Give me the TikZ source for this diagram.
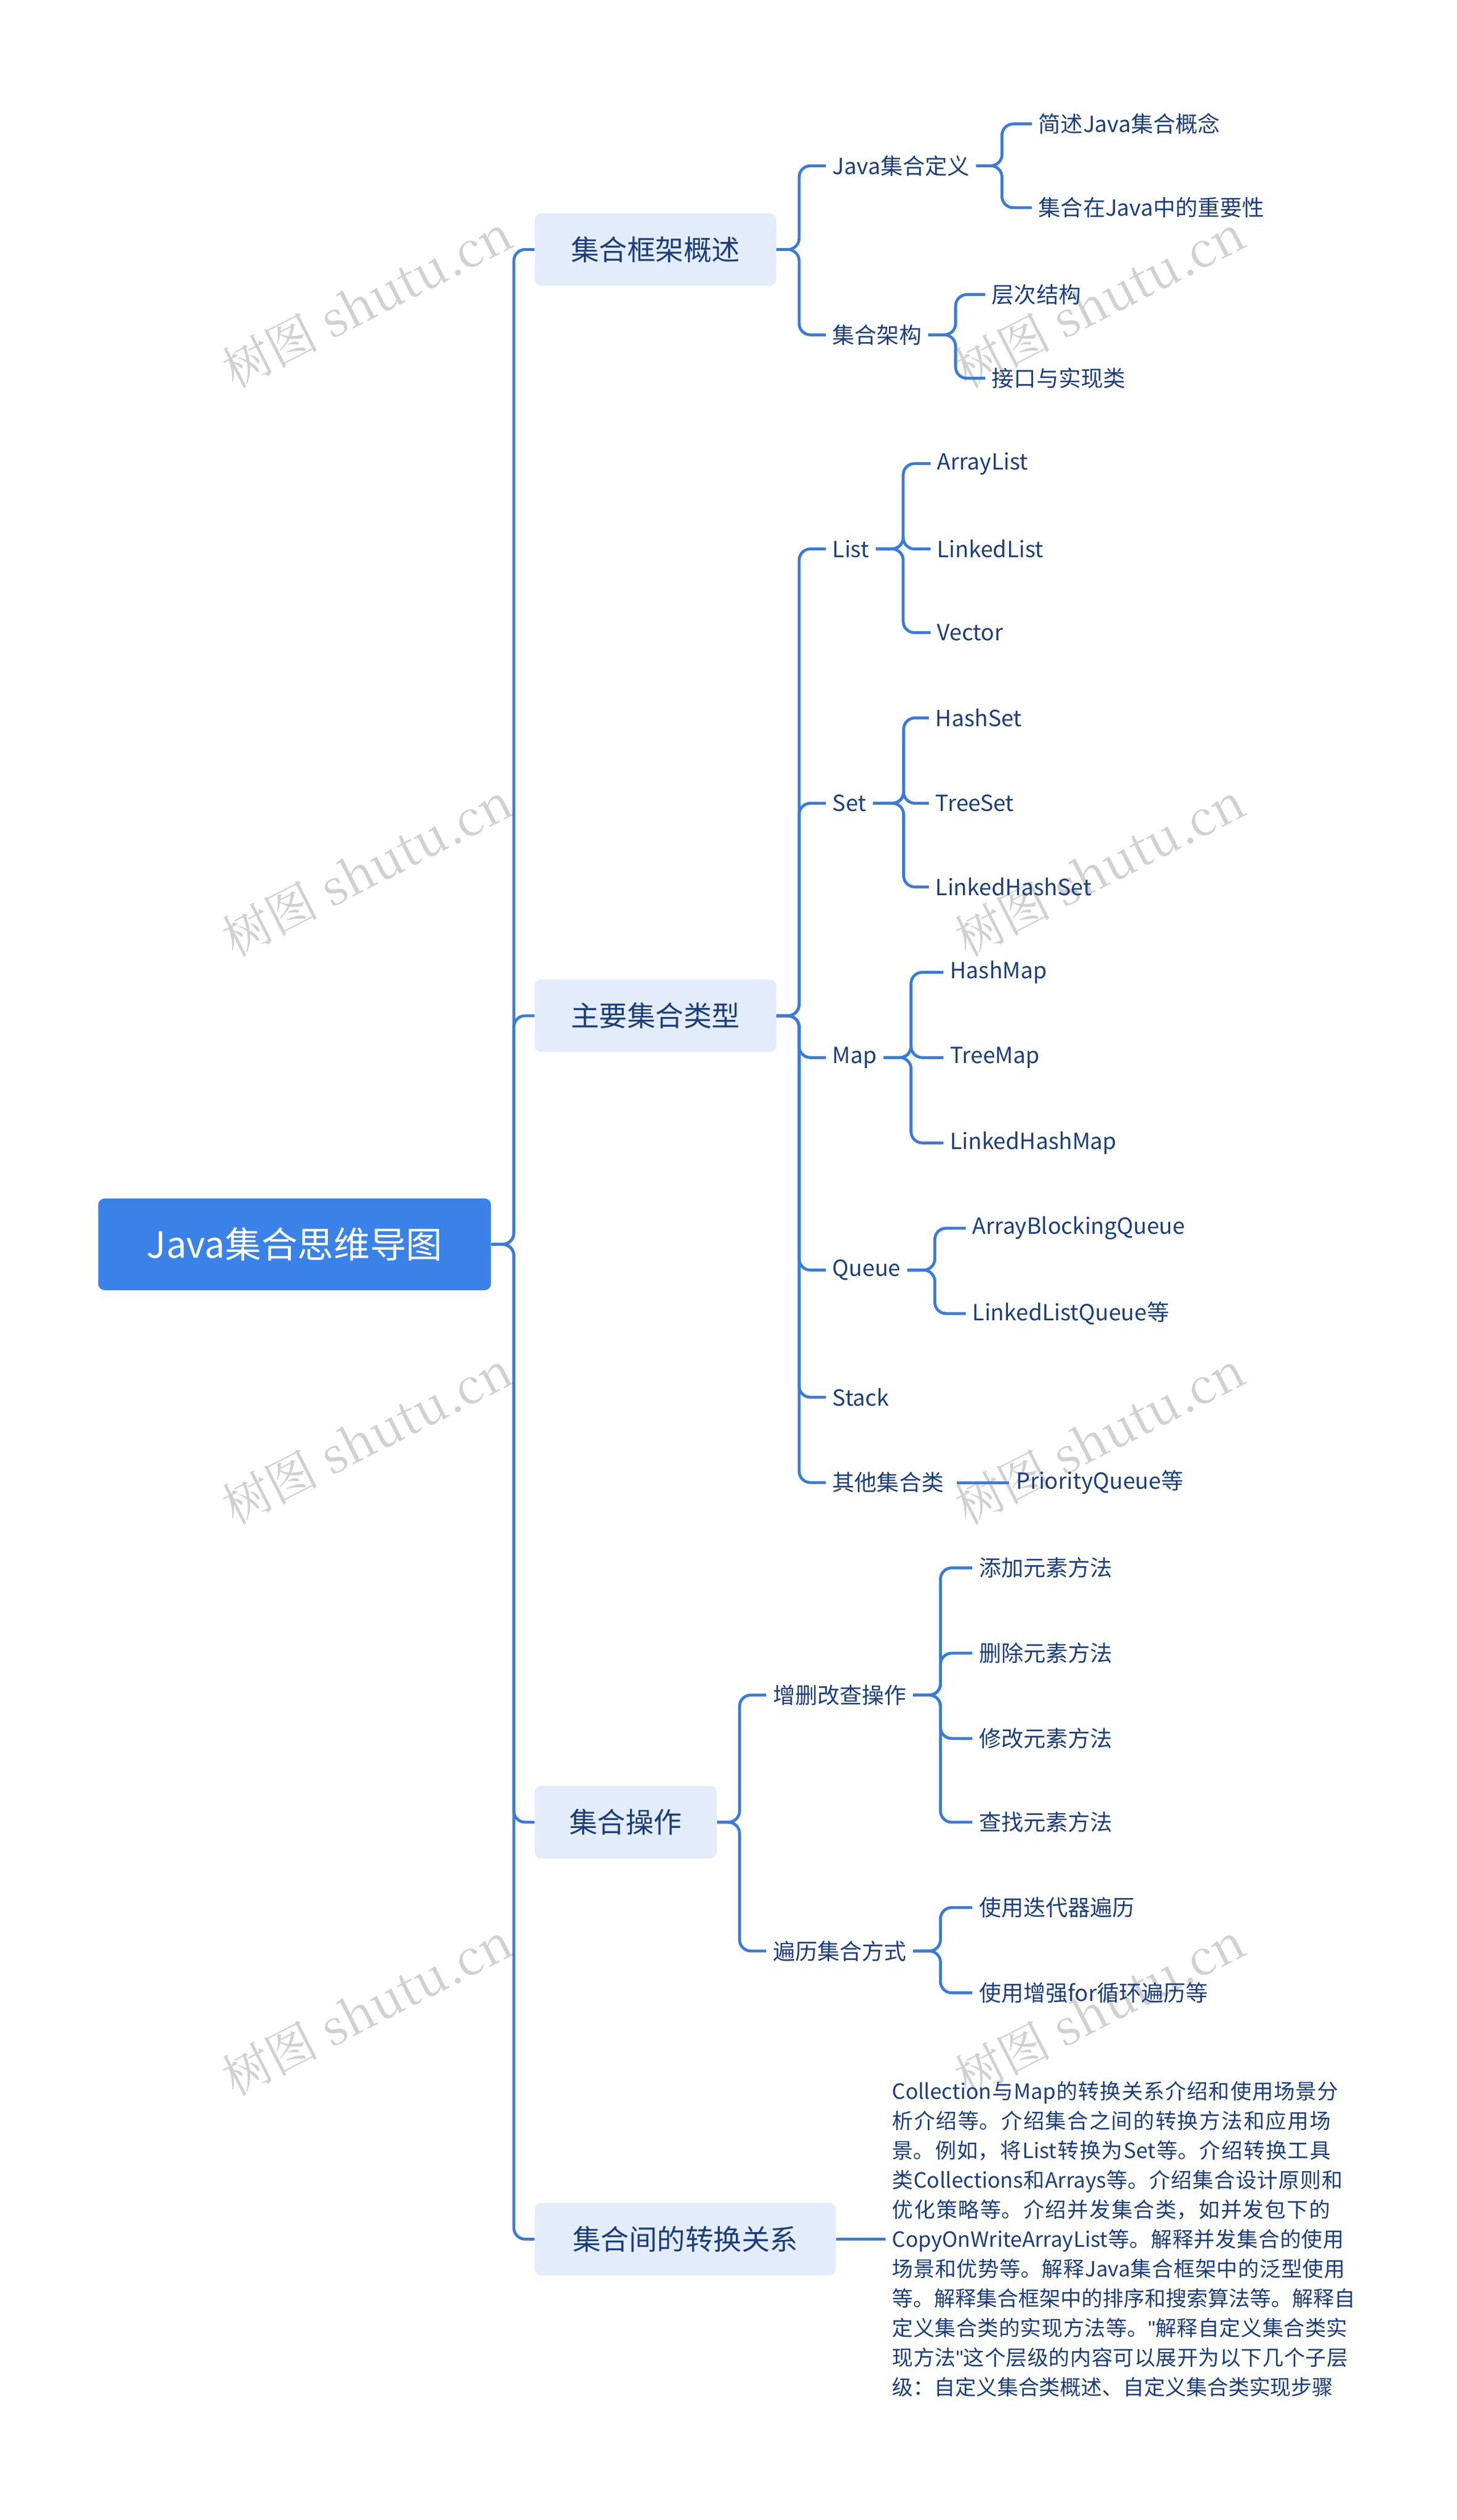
\documentclass[tikz,border=0pt]{standalone}
\usepackage{fontspec}
\setmainfont{Noto Sans CJK SC}
\newfontfamily\wmfont{Noto Serif CJK SC}
\newfontfamily\qfont{Liberation Sans}
\XeTeXlinebreaklocale "zh"
\XeTeXlinebreakskip=0pt plus 1pt
\begin{document}
\begin{tikzpicture}[x=1pt,y=-1pt,
  conn/.style={draw=lc,line width=1.8pt,rounded corners=7pt},
  rootbox/.style={fill=rootc,rounded corners=4pt,text=white,font=\fontsize{22.5}{26}\selectfont,minimum height=57pt,inner xsep=0pt},
  l1box/.style={fill=l1c,rounded corners=4pt,text=txtc,font=\fontsize{17.5}{20}\selectfont,minimum height=45pt,inner xsep=0pt,anchor=west},
  lab/.style={text=txtc,font=\fontsize{13.8}{16}\selectfont,anchor=west,inner sep=4pt},
  wm/.style={text=black!18,font=\fontsize{30}{34}\selectfont\wmfont,rotate=27}]
\definecolor{lc}{HTML}{3A7BDA}
\definecolor{rootc}{HTML}{3B82E8}
\definecolor{l1c}{HTML}{E3ECFB}
\definecolor{txtc}{HTML}{1C3E7A}
\useasboundingbox (0,0) rectangle (905,1565.5);
% watermarks
\foreach \x in {228,683}{\foreach \y in {187,540,893,1248}{\node[wm] at (\x,\y) {树图 shutu.cn};}}
% root
\node[rootbox,minimum width=244pt] (root) at (183,773) {Java集合思维导图};
\node[l1box,minimum width=150pt] (a) at (332,155) {集合框架概述};
\node[l1box,minimum width=150pt] (b) at (332,631) {主要集合类型};
\node[l1box,minimum width=113pt] (c) at (332,1132) {集合操作};
\node[l1box,minimum width=187pt] (d) at (332,1391) {集合间的转换关系};
\foreach \n in {a,b,c,d} \draw[conn] (root.east) -- ++(14,0) |- (\n.west);
% branch a
\node[lab] (a1) at (513,103) {Java集合定义};
\node[lab] (a2) at (513,208) {集合架构};
\foreach \n in {a1,a2} \draw[conn] (a.east) -- ++(14,0) |- (\n.west);
\node[lab] (a11) at (641,77) {简述Java集合概念};
\node[lab] (a12) at (641,129) {集合在Java中的重要性};
\foreach \n in {a11,a12} \draw[conn] (a1.east) -- ++(16,0) |- (\n.west);
\node[lab] (a21) at (612,183) {层次结构};
\node[lab] (a22) at (612,235) {接口与实现类};
\foreach \n in {a21,a22} \draw[conn] (a2.east) -- ++(17,0) |- (\n.west);
% branch b
\node[lab] (b1) at (513,341) {List};
\node[lab] (b2) at (513,499) {Set};
\node[lab] (b3) at (513,657) {Map};
\node[lab] (b4) at (513,789) {Queue};
\node[lab] (b5) at (513,868) {Stack};
\node[lab] (b6) at (513,921) {其他集合类};
\foreach \n in {b1,b2,b3,b4,b5,b6} \draw[conn] (b.east) -- ++(14,0) |- (\n.west);
\node[lab] (b11) at (578,288) {ArrayList};
\node[lab] (b12) at (578,341) {LinkedList};
\node[lab] (b13) at (578,393) {Vector};
\foreach \n in {b11,b12,b13} \draw[conn] (b1.east) -- ++(17,0) |- (\n.west);
\node[lab] (b21) at (577,446) {HashSet};
\node[lab] (b22) at (577,499) {TreeSet};
\node[lab] (b23) at (577,551) {LinkedHashSet};
\foreach \n in {b21,b22,b23} \draw[conn] (b2.east) -- ++(19,0) |- (\n.west);
\node[lab] (b31) at (586,604) {HashMap};
\node[lab] (b32) at (586,657) {TreeMap};
\node[lab] (b33) at (586,710) {LinkedHashMap};
\foreach \n in {b31,b32,b33} \draw[conn] (b3.east) -- ++(17,0) |- (\n.west);
\node[lab] (b41) at (600,763) {ArrayBlockingQueue};
\node[lab] (b42) at (600,816) {LinkedListQueue等};
\foreach \n in {b41,b42} \draw[conn] (b4.east) -- ++(17,0) |- (\n.west);
\node[lab] (b61) at (627,921) {PriorityQueue等};
\draw[conn] (b6.east) ++(4,0) -- (b61.west);
% branch c
\node[lab] (c1) at (476,1053) {增删改查操作};
\node[lab] (c2) at (476,1212) {遍历集合方式};
\foreach \n in {c1,c2} \draw[conn] (c.east) -- ++(14,0) |- (\n.west);
\node[lab] (c11) at (604,974) {添加元素方法};
\node[lab] (c12) at (604,1027) {删除元素方法};
\node[lab] (c13) at (604,1080) {修改元素方法};
\node[lab] (c14) at (604,1132) {查找元素方法};
\foreach \n in {c11,c12,c13,c14} \draw[conn] (c1.east) -- ++(17,0) |- (\n.west);
\node[lab] (c21) at (604,1185) {使用迭代器遍历};
\node[lab] (c22) at (604,1238) {使用增强for循环遍历等};
\foreach \n in {c21,c22} \draw[conn] (c2.east) -- ++(17,0) |- (\n.west);
% branch d
\node[lab,align=left,text width=289pt,font=\fontsize{13.05}{18.4}\selectfont] (d1) at (550,1391) {Collection与Map的转换关系介绍和使用场景分析介绍等。介绍集合之间的转换方法和应用场景。例如，将List转换为Set等。介绍转换工具类Collections和Arrays等。介绍集合设计原则和优化策略等。介绍并发集合类，如并发包下的CopyOnWriteArrayList等。解释并发集合的使用场景和优势等。解释Java集合框架中的泛型使用等。解释集合框架中的排序和搜索算法等。解释自定义集合类的实现方法等。{\qfont\symbol{34}}解释自定义集合类实现方法{\qfont\symbol{34}}这个层级的内容可以展开为以下几个子层级：自定义集合类概述、自定义集合类实现步骤};
\draw[conn] (d.east) -- (d1.west);
\end{tikzpicture}
\end{document}
